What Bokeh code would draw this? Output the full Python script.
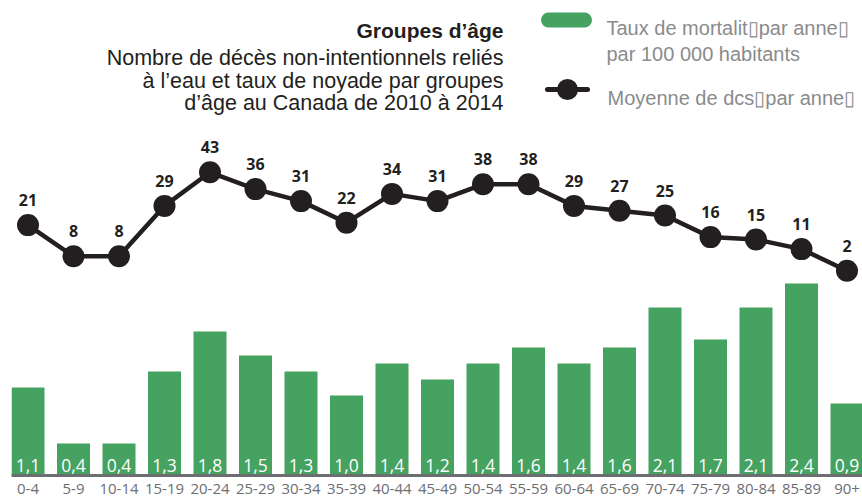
from bokeh.plotting import figure
from bokeh.models import Range1d, FixedTicker, ColumnDataSource
from bokeh.core.properties import value
from bokeh.embed import file_html
from bokeh.resources import INLINE

# ---- data ----
categories = ["0-4", "5-9", "10-14", "15-19", "20-24", "25-29", "30-34", "35-39",
              "40-44", "45-49", "50-54", "55-59", "60-64", "65-69", "70-74",
              "75-79", "80-84", "85-89", "90+"]
rates = [1.1, 0.4, 0.4, 1.3, 1.8, 1.5, 1.3, 1.0, 1.4, 1.2, 1.4, 1.6, 1.4, 1.6,
         2.1, 1.7, 2.1, 2.4, 0.9]
deaths = [21, 8, 8, 29, 43, 36, 31, 22, 34, 31, 38, 38, 29, 27, 25, 16, 15, 11, 2]

title = "Groupes d\u2019âge"
subtitle = ["Nombre de décès non-intentionnels reliés",
            "à l\u2019eau et taux de noyade par groupes",
            "d\u2019âge au Canada de 2010 à 2014"]
legend_rate = ["Taux de mortalit\u25afpar anne\u25af", "par 100 000 habitants"]
legend_deaths = "Moyenne de dcs\u25afpar anne\u25af"

# ---- styling ----
GREEN = "#45a260"
DARK = "#231f20"
GREY = "#6d6e71"
LEG = "#8a8b8d"

LEFT = 11
FW, FH = 862 - LEFT, 475
SPACING = 45.5
FIRST = 16.5
x0 = -FIRST / SPACING
x1 = x0 + FW / SPACING

PX_PER_RATE = 80.0
PX_PER_DEATH = 2.4
ZERO_FROM_BOTTOM = 200.0
d0 = -ZERO_FROM_BOTTOM / PX_PER_DEATH
d1 = d0 + FH / PX_PER_DEATH

p = figure(frame_width=FW, frame_height=FH,
           x_range=Range1d(x0, x1), y_range=Range1d(0, FH / PX_PER_RATE),
           output_backend="svg", toolbar_location=None,
           y_axis_location=None,
           min_border_left=LEFT, min_border_right=0,
           min_border_top=0, min_border_bottom=0)
# pixel-like ranges for the title block and legend (screen coordinates)
p.extra_y_ranges = {"deaths": Range1d(d0, d1), "py": Range1d(FH, 0)}
p.extra_x_ranges = {"px": Range1d(LEFT, LEFT + FW)}
p.outline_line_color = None
p.xgrid.grid_line_color = None
p.ygrid.grid_line_color = None
p.background_fill_color = "white"
p.border_fill_color = "white"

idx = list(range(len(categories)))
src = ColumnDataSource(dict(
    x=idx, cat=categories, rate=rates, deaths=deaths,
    rate_lbl=[f"{v:.1f}".replace(".", ",") for v in rates],
    death_lbl=[str(d) for d in deaths],
    zero=[0] * len(idx),
))

# bars
p.vbar(x="x", top="rate", bottom=0, width=33 / SPACING, source=src,
       fill_color=GREEN, line_color=None)
p.text(x="x", y="zero", text="rate_lbl", source=src, text_align="center",
       text_baseline="alphabetic", y_offset=-10, text_color="white",
       text_font=value("Open Sans"), text_font_size="17.5px")

# line
p.line(x="x", y="deaths", source=src, y_range_name="deaths",
       line_color=DARK, line_width=4.5)
p.scatter(x="x", y="deaths", source=src, y_range_name="deaths", size=22,
          fill_color=DARK, line_color=None)
p.text(x="x", y="deaths", text="death_lbl", source=src, y_range_name="deaths",
       text_align="center", text_baseline="alphabetic", y_offset=-25,
       text_color=DARK, text_font=value("Open Sans"), text_font_style="bold",
       text_font_size="16px")

# x axis
ax = p.xaxis[0]
ax.ticker = FixedTicker(ticks=idx)
ax.major_label_overrides = {i: c for i, c in enumerate(categories)}
ax.major_tick_line_color = None
ax.minor_tick_line_color = None
ax.major_tick_out = 0
ax.major_tick_in = 0
ax.axis_line_color = GREY
ax.axis_line_width = 3
ax.major_label_standoff = 8
ax.major_label_text_color = GREY
ax.major_label_text_font = "Open Sans"
ax.major_label_text_font_size = "15px"

# title & subtitle
p.text(x=[503], y=[30], text=[title], x_range_name="px", y_range_name="py",
       text_align="right", text_baseline="alphabetic", text_color=DARK,
       text_font=value("Liberation Sans"), text_font_style="bold",
       text_font_size="21px")
p.text(x=[503] * 3, y=[57, 80, 102], text=subtitle, x_range_name="px",
       y_range_name="py", text_align="right", text_baseline="alphabetic",
       text_color=DARK, text_font=value("Liberation Sans"),
       text_font_size="21.5px")

# legend
p.line(x=[548, 584], y=[19.5, 19.5], x_range_name="px", y_range_name="py",
       line_color=GREEN, line_width=15, line_cap="round")
p.text(x=[606, 606], y=[27, 53], text=legend_rate, x_range_name="px",
       y_range_name="py", text_align="left", text_baseline="alphabetic",
       text_color=LEG, text_font=value("Liberation Sans"),
       text_font_size="20px")
p.line(x=[547, 587], y=[89, 89], x_range_name="px", y_range_name="py",
       line_color=DARK, line_width=5, line_cap="round")
p.scatter(x=[567], y=[89], x_range_name="px", y_range_name="py", size=21,
          fill_color=DARK, line_color=None)
p.text(x=[607], y=[97], text=[legend_deaths], x_range_name="px",
       y_range_name="py", text_align="left", text_baseline="alphabetic",
       text_color=LEG, text_font=value("Liberation Sans"),
       text_font_size="20px")

open("out.html", "w").write(file_html(p, INLINE))
